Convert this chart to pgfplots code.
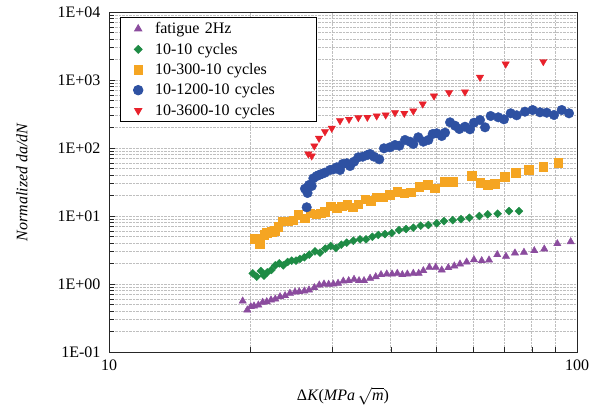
\documentclass[border=0pt]{standalone}
\usepackage{fontspec}
\setmainfont{Liberation Serif}
\usepackage{pgfplots}
\pgfplotsset{compat=1.18}
\definecolor{cpurple}{HTML}{8B4C9E}
\definecolor{cgreen}{HTML}{1E8B45}
\definecolor{corange}{HTML}{F5A522}
\definecolor{cblue}{HTML}{2E51A2}
\definecolor{cred}{HTML}{E8212B}
\newcommand\myfont{\fontsize{16}{19}\selectfont}
\begin{document}
\begin{tikzpicture}
\path[use as bounding box] (-109pt,-58pt) rectangle (502pt,352pt);
\begin{axis}[
  scale only axis, width=468pt, height=340pt,
  xmode=log, ymode=log,
  xmin=10, xmax=100, ymin=0.1, ymax=10000,
  xtick={10,100}, xticklabels={10,100},
  ytick={0.1,1,10,100,1000,10000},
  yticklabels={1E-01,1E+00,1E+01,1E+02,1E+03,1E+04},
  minor xtick={20,30,40,50,60,70,80,90},
  minor ytick={0.2,0.3,0.4,0.5,0.6,0.7,0.8,0.9,2,3,4,5,6,7,8,9,20,30,40,50,60,70,80,90,200,300,400,500,600,700,800,900,2000,3000,4000,5000,6000,7000,8000,9000},
  grid=both,
  major grid style={densely dotted, gray!50, line width=0.6pt},
  minor grid style={densely dotted, gray!50, line width=0.6pt},
  tick pos=left, tick align=inside,
  major tick length=6pt, minor tick length=5pt,
  axis line style={line width=0.8pt, black!85},
  tick style={black!85},
  every tick label/.append style={font=\myfont},
  xticklabel style={yshift=-4pt},
  yticklabel style={xshift=-5pt},
  label style={font=\myfont},
  xlabel={Δ\textit{K}(\textit{MPa}\,$\sqrt{\mbox{\textit{m}}}$)},
  ylabel={\textit{Normalized da/dN}},
  xlabel style={at={(axis description cs:0.5,-0.129)}, anchor=center},
  ylabel style={at={(axis description cs:-0.186,0.5)}, anchor=center},
  legend cell align=left,
  legend style={at={(axis description cs:0.0235,0.985)}, anchor=north west,
    draw=black, line width=0.8pt, font=\myfont, fill=white,
    inner xsep=13pt, inner ysep=3pt, column sep=10pt, row sep=3.8pt,
    nodes={text width=146pt}},
]
\addplot[only marks, mark=triangle*, mark size=4.2pt, color=cpurple] coordinates {
(19.31,0.562)(19.75,0.415)(20.09,0.464)(20.41,0.475)(20.85,0.491)(21.30,0.538)(21.73,0.549)(22.19,0.582)(22.66,0.601)(23.20,0.650)(23.78,0.673)(24.36,0.730)(24.97,0.762)(25.50,0.771)(26.14,0.789)(26.75,0.817)(27.46,0.883)(28.14,0.966)(28.80,1.0)(29.47,0.990)(30.16,1.0)(30.86,1.023)(31.67,1.106)(32.52,1.119)(33.39,1.172)(34.22,1.119)(35.07,1.119)(36.13,1.213)(37.15,1.280)(38.13,1.371)(39.22,1.403)(40.25,1.403)(41.30,1.436)(42.34,1.371)(43.40,1.403)(44.69,1.436)(45.89,1.436)(46.95,1.570)(48.36,1.762)(49.91,1.762)(51.40,1.607)(53.09,1.737)(54.68,1.841)(56.23,1.968)(58.11,2.108)(60.24,2.276)(62.57,2.203)(64.86,2.254)(67.55,2.698)(70.51,2.553)(73.70,2.858)(77.04,2.925)(81.04,3.090)(85.13,3.273)(90.78,3.916)(96.94,4.188)
};
\addlegendentry{fatigue 2Hz}
\addplot[only marks, mark=square*, mark size=2.8pt, mark options={rotate=45}, color=cgreen] coordinates {
(20.28,1.436)(20.69,1.280)(21.10,1.553)(21.44,1.325)(21.79,1.486)(22.23,1.607)(22.66,1.884)(23.11,2.015)(23.57,1.884)(24.09,2.108)(24.57,2.203)(25.09,2.203)(25.59,2.333)(26.14,2.470)(26.79,2.698)(27.55,3.026)(28.24,2.886)(28.98,3.307)(29.77,3.620)(30.55,3.383)(31.36,3.784)(32.21,4.048)(33.27,4.332)(34.39,4.541)(35.42,4.541)(36.53,4.95)(37.62,5.26)(38.88,5.43)(40.19,5.62)(41.66,6.2)(43.12,6.44)(44.69,6.73)(46.35,7.20)(48.12,7.38)(50.15,7.81)(51.98,8.4)(54.26,8.67)(56.51,8.97)(58.88,9.41)(61.83,10.0)(64.45,10.59)(67.69,10.81)(71.56,11.77)(75.17,11.77)
};
\addlegendentry{10-10 cycles}
\addplot[only marks, mark=square*, mark size=4.3pt, color=corange] coordinates {
(20.51,4.59)(21.02,3.87)(21.44,5.26)(21.73,5.68)(22.27,5.88)(22.63,6.02)(22.99,6.96)(23.50,8.44)(24.16,8.44)(24.77,8.73)(25.38,10.35)(26.23,9.25)(26.89,10.96)(27.69,10.70)(28.34,10.96)(28.94,11.57)(29.77,14.03)(30.66,12.98)(31.42,14.03)(32.30,14.52)(33.17,13.43)(34.10,15.01)(35.24,17.78)(36.25,16.79)(37.33,18.84)(38.56,18.84)(39.85,20.37)(41.30,23.0)(42.70,21.57)(44.13,22.54)(45.97,26.98)(47.97,28.58)(49.72,25.64)(51.98,31.94)(54.26,31.94)(59.57,39.14)(62.05,30.89)(64.45,28.76)(66.79,29.75)(70.17,37.84)(74.07,43.36)(78.95,47.77)(84.60,53.09)(91.10,60.79)
};
\addlegendentry{10-300-10 cycles}
\addplot[only marks, mark=*, mark size=4.8pt, color=cblue] coordinates {
(26.45,13.43)(26.23,25.2)(26.56,21.8)(26.75,28.58)(27.11,27.6)(27.33,35.8)(27.79,38.7)(28.10,40.1)(28.47,41.5)(28.94,43.4)(29.67,47.5)(30.16,48.6)(30.66,52.0)(31.16,47.5)(31.58,58.2)(32.21,59.6)(32.73,54.3)(33.39,62.9)(34.10,73.0)(34.84,74.5)(35.65,78.9)(36.13,81.7)(36.85,74.5)(37.81,68.2)(38.69,99.0)(39.85,102.4)(40.84,110.6)(41.72,108.1)(42.91,131.2)(43.98,123.8)(44.69,114.5)(45.80,143.7)(46.95,123.8)(48.12,131.2)(49.16,160.6)(50.15,164.4)(51.40,150.1)(52.24,168.0)(53.55,238.6)(54.88,212.5)(56.05,190.3)(57.63,205.6)(59.07,188.4)(60.24,235.5)(62.05,258.1)(63.61,201.5)(65.40,295.6)(67.88,282.8)(69.82,264.2)(72.17,323.8)(74.32,302.7)(77.42,342.0)(80.40,361.9)(83.35,335.1)(86.15,330.6)(89.30,305.9)(92.76,361.9)(96.14,323.8)
};
\addlegendentry{10-1200-10 cycles}
\addplot[only marks, mark=triangle*, mark size=4.2pt, mark options={rotate=180}, color=cred] coordinates {
(26.66,81.7)(27.11,76.3)(27.46,107.0)(28.10,139.0)(28.94,173.7)(29.92,194.9)(31.16,252.0)(32.57,264.2)(34.10,279.1)(35.65,282.8)(37.33,295.6)(39.02,305.9)(40.84,330.6)(42.76,323.8)(44.69,350.0)(46.81,443.7)(49.48,581.8)(53.29,650.6)(57.63,666.8)(62.05,1096)(70.41,1718)(84.72,1862)
};
\addlegendentry{10-3600-10 cycles}
\end{axis}
\end{tikzpicture}
\end{document}
